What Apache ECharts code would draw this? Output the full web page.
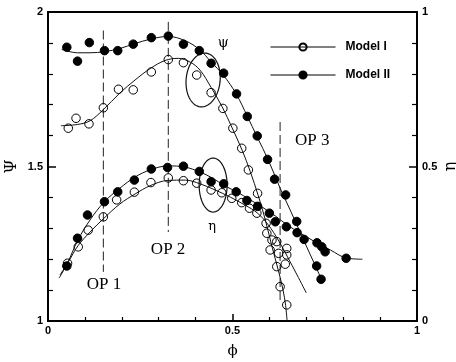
<!DOCTYPE html>
<html>
<head>
<meta charset="utf-8">
<script src="https://cdn.jsdelivr.net/npm/echarts@6/dist/echarts.min.js"></script>
<style>
  html, body { margin: 0; padding: 0; background: #fff; }
  #main { width: 456px; height: 362px; }
</style>
</head>
<body>
<div id="main"></div>
<script>
  // measured points, [phi, value]
  const psiModelI = [[0.055,1.624],[0.076,1.656],[0.111,1.638],[0.150,1.690],[0.191,1.750],[0.231,1.748],[0.280,1.806],[0.326,1.846],[0.367,1.836],[0.403,1.796],[0.442,1.739],[0.474,1.688],[0.501,1.624],[0.525,1.559],[0.543,1.489],[0.568,1.413],[0.593,1.284],[0.602,1.230],[0.620,1.176],[0.629,1.111],[0.647,1.052]];
  const psiModelII = [[0.051,1.886],[0.080,1.841],[0.112,1.901],[0.153,1.875],[0.189,1.875],[0.231,1.896],[0.280,1.917],[0.326,1.922],[0.367,1.896],[0.410,1.875],[0.442,1.834],[0.476,1.802],[0.511,1.735],[0.540,1.662],[0.567,1.599],[0.595,1.523],[0.614,1.459],[0.644,1.408],[0.674,1.322],[0.694,1.264],[0.728,1.178],[0.740,1.135]];
  const etaModelI = [[0.053,0.187],[0.082,0.240],[0.109,0.294],[0.150,0.337],[0.186,0.392],[0.234,0.417],[0.279,0.448],[0.326,0.463],[0.367,0.454],[0.403,0.446],[0.442,0.424],[0.471,0.415],[0.498,0.397],[0.525,0.383],[0.546,0.365],[0.566,0.349],[0.591,0.316],[0.607,0.262],[0.620,0.257],[0.625,0.219],[0.647,0.235],[0.647,0.214],[0.643,0.184]];
  const etaModelII = [[0.051,0.178],[0.080,0.268],[0.107,0.343],[0.153,0.386],[0.189,0.418],[0.234,0.456],[0.280,0.492],[0.324,0.497],[0.367,0.501],[0.410,0.484],[0.442,0.451],[0.476,0.444],[0.510,0.418],[0.539,0.390],[0.568,0.371],[0.600,0.349],[0.616,0.321],[0.646,0.305],[0.675,0.286],[0.729,0.253],[0.742,0.240],[0.751,0.224],[0.808,0.203]];

  // fitted curves
  const psiFitI = [[0.035,1.632],[0.080,1.636],[0.114,1.648],[0.149,1.683],[0.195,1.738],[0.236,1.780],[0.277,1.817],[0.317,1.843],[0.353,1.850],[0.385,1.838],[0.412,1.812],[0.442,1.756],[0.472,1.693],[0.499,1.625],[0.526,1.553],[0.548,1.484],[0.570,1.405],[0.589,1.327],[0.608,1.236],[0.624,1.165],[0.637,1.100],[0.644,1.050],[0.648,1.000]];
  const psiFitII = [[0.037,1.879],[0.080,1.868],[0.114,1.868],[0.155,1.872],[0.195,1.882],[0.236,1.898],[0.277,1.912],[0.325,1.921],[0.372,1.907],[0.412,1.877],[0.442,1.838],[0.475,1.796],[0.510,1.735],[0.540,1.663],[0.567,1.595],[0.597,1.521],[0.629,1.430],[0.656,1.360],[0.683,1.288],[0.711,1.214],[0.732,1.159],[0.745,1.123]];
  const etaFitI = [[0.0325,0.149],[0.055,0.191],[0.081,0.243],[0.114,0.288],[0.152,0.333],[0.195,0.379],[0.236,0.411],[0.277,0.438],[0.325,0.455],[0.372,0.456],[0.412,0.444],[0.453,0.424],[0.494,0.401],[0.534,0.375],[0.567,0.350],[0.597,0.311],[0.624,0.262],[0.648,0.210],[0.675,0.149],[0.700,0.091]];
  const etaFitII = [[0.030,0.139],[0.0515,0.184],[0.081,0.262],[0.114,0.327],[0.152,0.385],[0.195,0.430],[0.236,0.466],[0.277,0.489],[0.325,0.502],[0.372,0.498],[0.412,0.482],[0.445,0.463],[0.480,0.437],[0.513,0.417],[0.548,0.392],[0.580,0.369],[0.616,0.340],[0.648,0.311],[0.683,0.285],[0.724,0.256],[0.765,0.230],[0.808,0.204],[0.852,0.200]];

  // operating points: phi, psi at top and bottom of the dashed line
  const opPhi = [0.150, 0.326, 0.629];
  const opTop = [1.940, 1.968, 1.644];
  const opBottom = [1.159, 1.288, 1.068];
  const opLabels = ['OP 1', 'OP 2', 'OP 3'];

  const chartDom = document.getElementById('main');
  const myChart = echarts.init(chartDom);

  const axisFont = { color: '#000', fontFamily: 'Arial, Liberation Sans, sans-serif', fontWeight: 'bold', fontSize: 11 };
  const axisLine = { show: true, lineStyle: { color: '#000', width: 1.8 } };

  const markerSeries = (name, data, yIdx, filled) => ({
    name: name,
    type: 'line',
    yAxisIndex: yIdx,
    data: data,
    symbol: 'circle',
    symbolSize: 8.5,
    lineStyle: { opacity: 0 },
    itemStyle: filled
      ? { color: '#000', borderColor: '#000', borderWidth: 1 }
      : { color: 'rgba(255,255,255,0)', borderColor: '#000', borderWidth: 1 },
    z: 3,
    silent: true
  });
  const fitSeries = (data, yIdx) => ({
    type: 'line',
    yAxisIndex: yIdx,
    data: data,
    smooth: 0.35,
    showSymbol: false,
    lineStyle: { color: '#111', width: 1 },
    z: 2,
    silent: true
  });

  // positions of annotations in data coords (phi, psi)
  const notes = [
    { text: opLabels[0], at: [0.152, 1.117], font: '17px "Liberation Serif", serif' },
    { text: opLabels[1], at: [0.3255, 1.230], font: '17px "Liberation Serif", serif' },
    { text: opLabels[2], at: [0.716, 1.583], font: '17px "Liberation Serif", serif' },
    { text: 'ψ', at: [0.4746, 1.900], font: '14px "DejaVu Serif", serif' },
    { text: 'η', at: [0.4448, 1.307], font: '13px "DejaVu Serif", serif' }
  ];
  const ellipses = [
    { at: [0.4204, 1.780], rx: 17, ry: 27, tilt: 0.1 },
    { at: [0.4475, 1.440], rx: 14, ry: 27, tilt: 0.0 }
  ];

  const option = {
    animation: false,
    backgroundColor: '#fff',
    grid: { left: 48, right: 39, top: 12, bottom: 41, outerBoundsMode: 'none', containLabel: false, show: true, borderColor: '#000', borderWidth: 1.8 },
    legend: {
      orient: 'vertical',
      left: 265,
      top: 36,
      itemWidth: 65,
      itemHeight: 9,
      itemGap: 16,
      data: ['Model I', 'Model II'],
      lineStyle: { opacity: 1, width: 1, color: '#000' },
      textStyle: { color: '#000', fontFamily: 'Arial, Liberation Sans, sans-serif', fontWeight: 'bold', fontSize: 12, padding: [0, 0, 0, 5] }
    },
    xAxis: {
      type: 'value', min: 0, max: 1, interval: 0.5,
      name: 'ϕ', nameLocation: 'middle', nameGap: 23, nameMoveOverlap: false,
      nameTextStyle: { color: '#000', fontFamily: '"DejaVu Serif", serif', fontSize: 15 },
      axisLine: axisLine,
      axisTick: { inside: true, length: 7, lineStyle: { color: '#000', width: 1.5 } },
      minorTick: { show: true, splitNumber: 5, length: 4, lineStyle: { color: '#000', width: 1.2 } },
      axisLabel: Object.assign({ margin: 4 }, axisFont),
      splitLine: { show: false }
    },
    yAxis: [
      {
        type: 'value', min: 1, max: 2, interval: 0.5, position: 'left',
        name: 'Ψ', nameLocation: 'middle', nameGap: 28, nameMoveOverlap: false,
        nameTextStyle: { color: '#000', fontFamily: '"DejaVu Serif", serif', fontSize: 16 },
        axisLine: axisLine,
        axisTick: { inside: true, length: 8, lineStyle: { color: '#000', width: 1.5 } },
        minorTick: { show: true, splitNumber: 5, length: 5, lineStyle: { color: '#000', width: 1.2 } },
        axisLabel: Object.assign({ margin: 5 }, axisFont),
        splitLine: { show: false }
      },
      {
        type: 'value', min: 0, max: 1, interval: 0.5, position: 'right',
        name: 'η', nameLocation: 'middle', nameGap: 26, nameMoveOverlap: false,
        nameTextStyle: { color: '#000', fontFamily: '"DejaVu Serif", serif', fontSize: 16 },
        axisLine: axisLine,
        axisTick: { inside: true, length: 8, lineStyle: { color: '#000', width: 1.5 } },
        minorTick: { show: true, splitNumber: 5, length: 5, lineStyle: { color: '#000', width: 1.2 } },
        axisLabel: Object.assign({ margin: 5 }, axisFont),
        splitLine: { show: false }
      }
    ],
    series: [
      fitSeries(psiFitI, 0),
      fitSeries(psiFitII, 0),
      fitSeries(etaFitI, 1),
      fitSeries(etaFitII, 1),
      markerSeries('Model I', psiModelI, 0, false),
      markerSeries('Model II', psiModelII, 0, true),
      markerSeries('Model I', etaModelI, 1, false),
      markerSeries('Model II', etaModelII, 1, true),
      {
        type: 'custom',
        yAxisIndex: 0,
        silent: true,
        data: opPhi.map((p, i) => [p, opTop[i], opBottom[i]]),
        renderItem: (params, api) => {
          const a = api.coord([api.value(0), api.value(1)]);
          const b = api.coord([api.value(0), api.value(2)]);
          return {
            type: 'line',
            shape: { x1: a[0], y1: a[1], x2: b[0], y2: b[1] },
            style: { stroke: '#222', lineWidth: 1, lineDash: [9, 4] }
          };
        }
      },
      {
        type: 'custom',
        yAxisIndex: 0,
        silent: true,
        data: ellipses.map(e => e.at),
        renderItem: (params, api) => {
          const e = ellipses[params.dataIndex];
          const c = api.coord([api.value(0), api.value(1)]);
          const pts = [];
          for (let k = 0; k <= 72; k++) {
            const t = k / 72 * Math.PI * 2;
            const x = e.rx * Math.cos(t), y = e.ry * Math.sin(t);
            pts.push([c[0] + x * Math.cos(e.tilt) - y * Math.sin(e.tilt), c[1] + x * Math.sin(e.tilt) + y * Math.cos(e.tilt)]);
          }
          return { type: 'polyline', shape: { points: pts }, style: { stroke: '#111', lineWidth: 1.2, fill: null } };
        }
      },
      {
        type: 'custom',
        yAxisIndex: 0,
        silent: true,
        data: notes.map(n => n.at),
        renderItem: (params, api) => {
          const n = notes[params.dataIndex];
          const c = api.coord([api.value(0), api.value(1)]);
          return {
            type: 'text',
            x: c[0], y: c[1],
            style: { text: n.text, font: n.font, fill: '#000', align: 'center', verticalAlign: 'middle' }
          };
        }
      }
    ]
  };

  option && myChart.setOption(option);

  window.addEventListener('resize', () => {
    myChart.resize();
  });
</script>
</body>
</html>
